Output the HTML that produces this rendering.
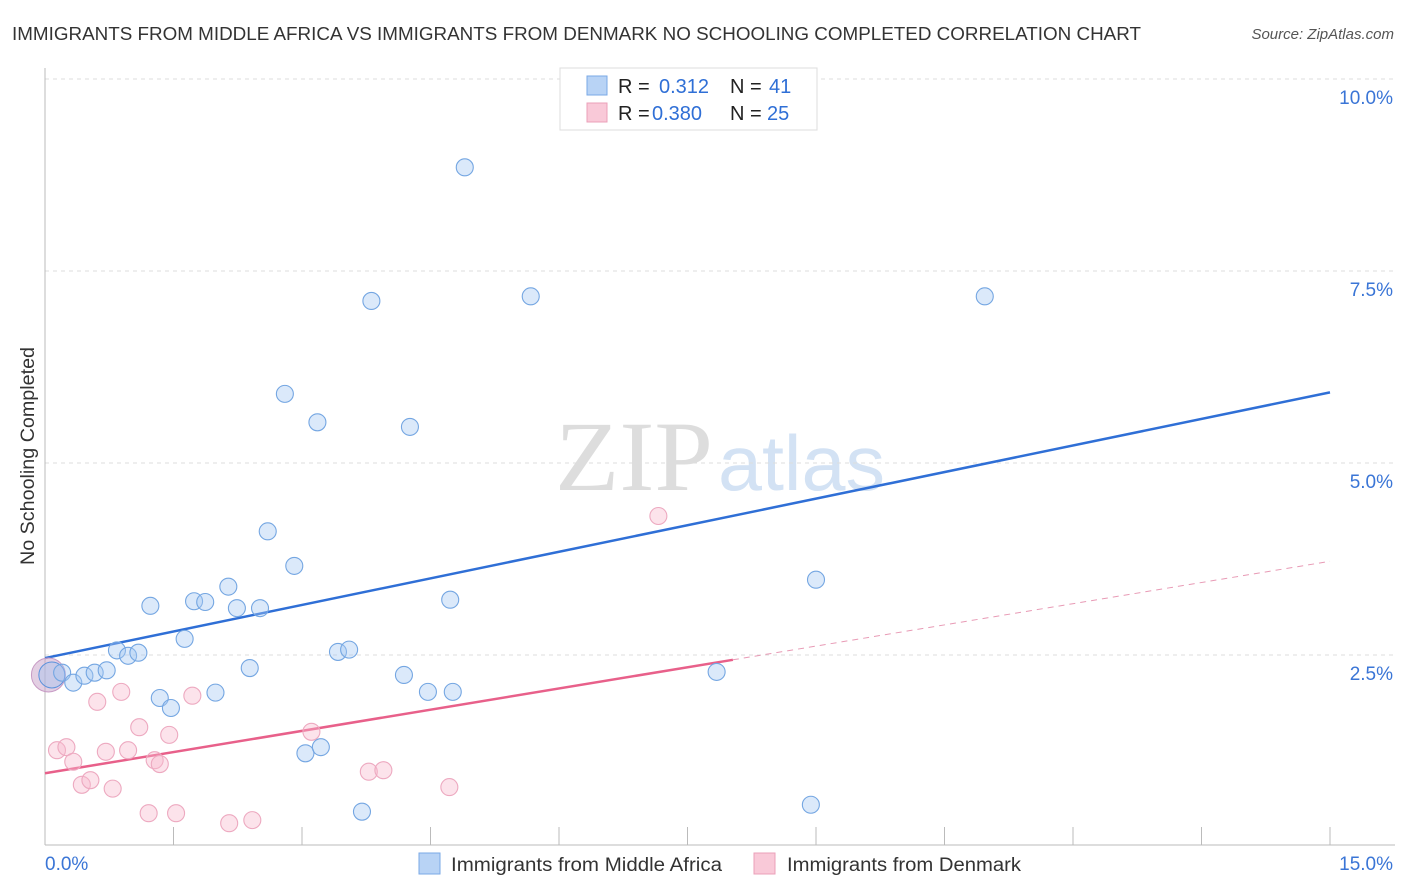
<!DOCTYPE html>
<html><head><meta charset="utf-8">
<style>
body{margin:0;background:#fff;font-family:"Liberation Sans",sans-serif;}
#wrap{position:relative;width:1406px;height:892px;overflow:hidden;}
</style></head>
<body>
<div id="wrap">
<svg id="svg" width="1406" height="892" xmlns="http://www.w3.org/2000/svg">
<text x="12" y="40" font-size="18" fill="#333" textLength="1129" lengthAdjust="spacingAndGlyphs">IMMIGRANTS FROM MIDDLE AFRICA VS IMMIGRANTS FROM DENMARK NO SCHOOLING COMPLETED CORRELATION CHART</text>
<text x="1394" y="39" font-size="15" fill="#555" font-style="italic" text-anchor="end">Source: ZipAtlas.com</text>
<text x="34" y="456" font-size="19" fill="#333" text-anchor="middle" textLength="218" lengthAdjust="spacingAndGlyphs" transform="rotate(-90 34 456)">No Schooling Completed</text>
<text x="555" y="490" font-size="100" fill="#ddd" font-family="Liberation Serif,serif" textLength="158" lengthAdjust="spacingAndGlyphs">ZIP</text>
<text x="718" y="490" font-size="78" fill="#d3e2f4" textLength="167" lengthAdjust="spacingAndGlyphs">atlas</text>
<g id="grid"></g>
<g id="axes"></g>
<g id="lines"></g>
<g id="pts"></g>
<g>
<rect x="560" y="68" width="257" height="62" fill="#fff" stroke="#ddd"/>
<rect x="587" y="76" width="20" height="19" fill="#b8d3f5" stroke="#7aa8e6"/>
<rect x="587" y="103" width="20" height="19" fill="#f9c9d8" stroke="#eba0b9"/>
<text y="93" font-size="20" fill="#222"><tspan x="618">R =</tspan><tspan x="659" fill="#2f6fd6">0.312</tspan><tspan x="730">N =</tspan><tspan x="769" fill="#2f6fd6">41</tspan></text>
<text y="120" font-size="20" fill="#222"><tspan x="618">R =</tspan><tspan x="652" fill="#2f6fd6">0.380</tspan><tspan x="730">N =</tspan><tspan x="767" fill="#2f6fd6">25</tspan></text>
</g>
<g>
<rect x="419" y="853" width="21" height="21" fill="#b8d3f5" stroke="#7aa8e6"/>
<text x="451" y="871" font-size="19" fill="#333" textLength="271" lengthAdjust="spacingAndGlyphs">Immigrants from Middle Africa</text>
<rect x="754" y="853" width="21" height="21" fill="#f9c9d8" stroke="#eba0b9"/>
<text x="787" y="871" font-size="19" fill="#333" textLength="234" lengthAdjust="spacingAndGlyphs">Immigrants from Denmark</text>
</g>
</svg>
</div>
<script>
const blueX=[0.20,0.33,0.46,0.58,0.72,0.84,0.97,1.09,1.23,1.34,1.47,1.63,1.74,1.87,1.99,2.14,2.24,2.39,2.51,2.60,2.80,2.91,3.04,3.18,3.22,3.42,3.55,3.70,3.81,4.19,4.26,4.47,4.73,4.76,4.90,5.67,7.84,8.94,9.00,10.97];
const blueY=[2.27,2.14,2.23,2.27,2.30,2.56,2.49,2.53,3.14,1.94,1.81,2.71,3.20,3.19,2.01,3.39,3.11,2.33,3.11,4.11,5.90,3.66,1.22,5.53,1.30,2.54,2.57,0.46,7.11,2.24,5.47,2.02,3.22,2.02,8.85,7.17,2.28,0.55,3.48,7.17];
const pinkX=[0.14,0.25,0.33,0.43,0.53,0.61,0.71,0.79,0.89,0.97,1.10,1.21,1.28,1.34,1.45,1.53,1.72,2.15,2.42,3.11,3.78,3.95,4.72,7.16];
const pinkY=[1.26,1.30,1.11,0.81,0.87,1.89,1.24,0.76,2.02,1.26,1.56,0.44,1.13,1.08,1.46,0.44,1.97,0.31,0.35,1.50,0.98,1.00,0.78,4.31];
const blueBig=[0.08,2.24];
const pinkBig=[0.04,2.24];
const blueTrend=[2.46,5.92];
const pinkTrend=[0.96,3.72];
const pinkSolidEnd=8.03;
const yTicks=[2.5,5.0,7.5,10.0];
const xTickCount=10;
const X0=45,X1=1330,Y0=847,Y1=79;
const sx=v=>X0+(v/15)*(X1-X0);
const sy=v=>Y0-(v/10)*(Y0-Y1);
const NS="http://www.w3.org/2000/svg";
function mk(tag,attrs,parent){const e=document.createElementNS(NS,tag);for(const k in attrs)e.setAttribute(k,attrs[k]);document.getElementById(parent).appendChild(e);return e;}
yTicks.forEach(t=>{
  const l=mk('line',{x1:X0,x2:1395,y1:sy(t),y2:sy(t),stroke:'#ddd','stroke-dasharray':'4,4'},'grid');
  
  
  const tx=mk('text',{x:1393,y:sy(t)+25,'font-size':19,fill:'#3a75d6','text-anchor':'end'},'grid');
  tx.textContent=t.toFixed(1)+'%';
  
  
});
let a=mk('line',{x1:X0,x2:X0,y1:68,y2:845,stroke:'#bbb'},'axes');


a=mk('line',{x1:X0,x2:1395,y1:845,y2:845,stroke:'#bbb'},'axes');


for(let i=1;i<=xTickCount;i++){
  const t=mk('line',{x1:sx(i*1.5),x2:sx(i*1.5),y1:827,y2:845,stroke:'#bbb'},'axes');
  
  
}
let t0=mk('text',{x:45,y:870,'font-size':19,fill:'#3a75d6'},'axes');t0.textContent='0.0%';


t0=mk('text',{x:1393,y:870,'font-size':19,fill:'#3a75d6','text-anchor':'end'},'axes');t0.textContent='15.0%';


let ln=mk('line',{x1:sx(0),y1:sy(blueTrend[0]),x2:sx(15),y2:sy(blueTrend[1]),stroke:'#2f6fd6','stroke-width':2.5},'lines');


const pAt=x=>pinkTrend[0]+(pinkTrend[1]-pinkTrend[0])*x/15;
ln=mk('line',{x1:sx(0),y1:sy(pAt(0)),x2:sx(pinkSolidEnd),y2:sy(pAt(pinkSolidEnd)),stroke:'#e8608a','stroke-width':2.5},'lines');


ln=mk('line',{x1:sx(pinkSolidEnd),y1:sy(pAt(pinkSolidEnd)),x2:sx(15),y2:sy(pAt(15)),stroke:'#e89ab5','stroke-width':1,'stroke-dasharray':'6,5'},'lines');


let c=mk('circle',{cx:sx(pinkBig[0]),cy:sy(pinkBig[1]),r:17,fill:'rgba(200,160,200,0.5)',stroke:'#c79ac4'},'pts');


c=mk('circle',{cx:sx(blueBig[0]),cy:sy(blueBig[1]),r:13,fill:'rgba(160,196,240,0.4)',stroke:'#5b92dc'},'pts');


pinkX.forEach((x,i)=>{
  const p=mk('circle',{cx:sx(x),cy:sy(pinkY[i]),r:8.5,fill:'rgba(247,185,205,0.4)',stroke:'#eda9c0','stroke-width':1.1},'pts');
  
  
});
blueX.forEach((x,i)=>{
  const p=mk('circle',{cx:sx(x),cy:sy(blueY[i]),r:8.5,fill:'rgba(165,200,242,0.4)',stroke:'#74a6e2','stroke-width':1.1},'pts');
  
  
});
</script>
</body></html>
